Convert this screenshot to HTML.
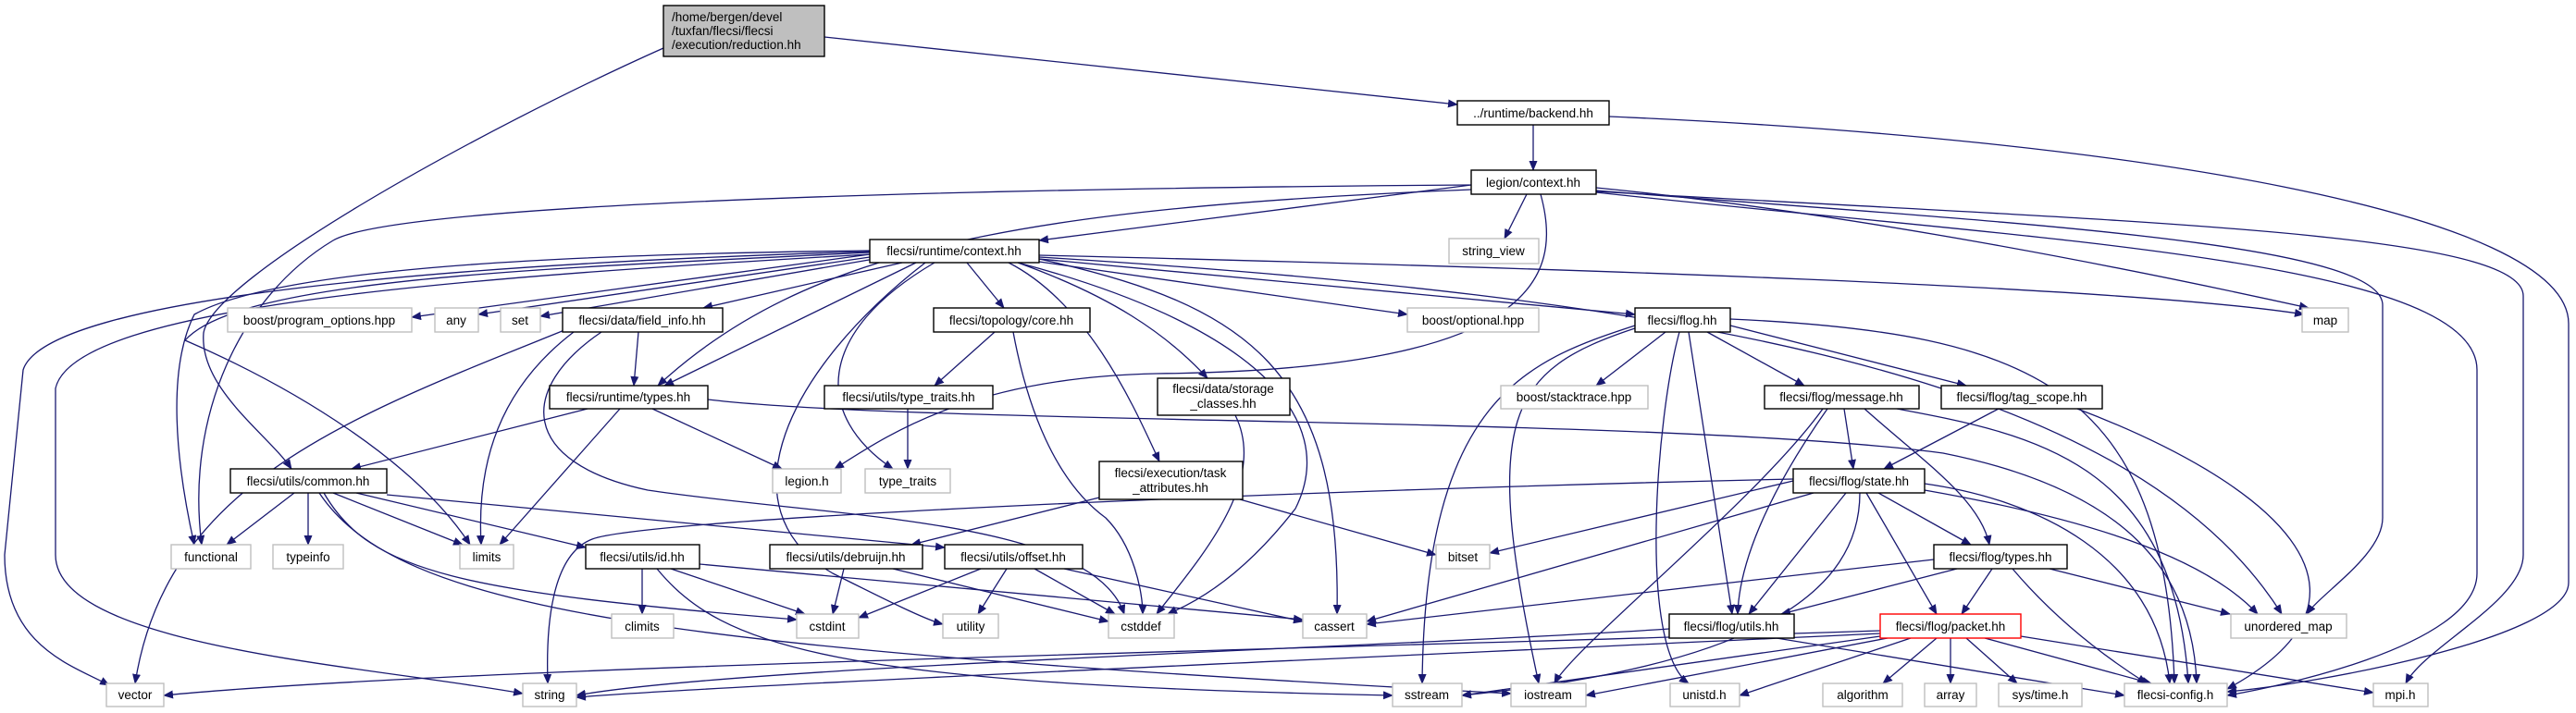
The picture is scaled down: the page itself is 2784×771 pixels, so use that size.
<!DOCTYPE html>
<html><head><meta charset="utf-8">
<style>
html,body{margin:0;padding:0;background:#fff;}
svg{display:block;}
text{font-family:"Liberation Sans",sans-serif;font-size:13.5px;fill:#000;}
.e{fill:none;stroke:#191970;stroke-width:1.3;marker-end:url(#a);}
.n{fill:#fff;stroke:#000;stroke-width:1.4;}
.l{fill:#fff;stroke:#bfbfbf;stroke-width:1.4;}
</style></head><body>
<svg width="2784" height="771" viewBox="0 0 2784 771" xmlns="http://www.w3.org/2000/svg">
<defs><marker id="a" markerUnits="userSpaceOnUse" markerWidth="11" markerHeight="9" refX="10" refY="4.5" orient="auto"><path d="M0,0 L11,4.5 L0,9 z" fill="#191970"/></marker></defs>
<g>
<path class="e" d="M891,40 L1575,113"/>
<path class="e" d="M717,52 C520,140 230,300 220,360 C215,420 290,470 315,507"/>
<path class="e" d="M1657,135 L1657,184"/>
<path class="e" d="M1739,126 C2300,150 2776,230 2776,350 L2776,630 C2776,690 2500,740 2407,748"/>
<path class="e" d="M1590,200 L1123,260"/>
<path class="e" d="M1650,210 L1626,258"/>
<path class="e" d="M1665,210 C1690,300 1660,400 1250,404 C1050,408 960,470 902,507"/>
<path class="e" d="M1590,205 C1100,225 870,270 711,417"/>
<path class="e" d="M1590,200 C900,205 420,225 360,260 C260,320 200,450 218,589"/>
<path class="e" d="M1725,203 C2000,230 2300,290 2495,333"/>
<path class="e" d="M1725,206 C2150,240 2575,260 2575,330 L2575,560 C2575,600 2510,640 2493,664"/>
<path class="e" d="M1725,208 C2200,260 2677,280 2677,400 L2677,620 C2677,700 2450,745 2407,752"/>
<path class="e" d="M1725,207 C2300,240 2727,250 2727,320 L2727,600 C2727,650 2620,700 2600,739"/>
<path class="e" d="M940,275 L445,343"/>
<path class="e" d="M940,278 L517,340"/>
<path class="e" d="M945,280 L584,342"/>
<path class="e" d="M975,284 L760,333"/>
<path class="e" d="M990,284 L718,417"/>
<path class="e" d="M1045,284 L1085,333"/>
<path class="e" d="M1100,284 C1200,320 1260,360 1305,409"/>
<path class="e" d="M1090,284 C1180,330 1230,450 1253,499"/>
<path class="e" d="M1123,283 L1521,340"/>
<path class="e" d="M1123,280 L1767,340"/>
<path class="e" d="M1123,276 C1700,290 2300,310 2490,340"/>
<path class="e" d="M1123,278 C1800,320 2300,400 2466,664"/>
<path class="e" d="M1123,280 C1350,330 1450,400 1445,664"/>
<path class="e" d="M1100,284 C1350,350 1450,450 1400,550 C1330,640 1270,660 1262,664"/>
<path class="e" d="M1000,284 C850,400 780,550 900,620 C960,650 1000,670 1019,675"/>
<path class="e" d="M1010,284 C880,360 880,450 965,507"/>
<path class="e" d="M940,275 C500,300 80,330 60,420 L60,600 C60,700 400,720 565,750"/>
<path class="e" d="M940,272 C500,285 50,320 25,400 L5,600 C5,700 80,720 118,741"/>
<path class="e" d="M940,273 C600,290 260,300 200,368 C320,420 450,500 508,589"/>
<path class="e" d="M940,271 C600,275 300,290 210,340 C180,400 190,500 210,589"/>
<path class="e" d="M690,359 L685,417"/>
<path class="e" d="M620,359 C540,420 515,500 520,589"/>
<path class="e" d="M615,355 C380,450 180,520 146,739"/>
<path class="e" d="M650,359 C560,420 560,500 700,530 C900,560 1180,560 1215,664"/>
<path class="e" d="M635,442 L380,507"/>
<path class="e" d="M670,442 L540,589"/>
<path class="e" d="M705,442 L845,507"/>
<path class="e" d="M765,432 C1000,460 1800,450 2100,490 C2300,530 2370,620 2374,739"/>
<path class="e" d="M981,442 L981,507"/>
<path class="e" d="M1075,359 L1010,417"/>
<path class="e" d="M1095,359 C1110,440 1140,520 1195,560 C1225,590 1235,640 1235,664"/>
<path class="e" d="M1335,449 C1370,520 1300,600 1250,664"/>
<path class="e" d="M1188,538 L985,589"/>
<path class="e" d="M1340,540 L1552,600"/>
<path class="e" d="M318,533 L245,589"/>
<path class="e" d="M333,533 L333,589"/>
<path class="e" d="M360,533 L500,589"/>
<path class="e" d="M385,533 L633,592"/>
<path class="e" d="M418,535 L1021,592"/>
<path class="e" d="M350,533 C400,620 500,640 861,670"/>
<path class="e" d="M345,533 C430,660 700,700 1633,750"/>
<path class="e" d="M694,615 L694,664"/>
<path class="e" d="M725,615 L870,664"/>
<path class="e" d="M756,610 L1408,670"/>
<path class="e" d="M710,615 C780,700 900,740 1505,752"/>
<path class="e" d="M912,615 L900,664"/>
<path class="e" d="M965,615 L1198,672"/>
<path class="e" d="M1088,615 L1057,664"/>
<path class="e" d="M1118,615 L1205,664"/>
<path class="e" d="M1150,615 L1408,672"/>
<path class="e" d="M1060,615 L928,668"/>
<path class="e" d="M1800,359 L1725,417"/>
<path class="e" d="M1845,359 L1950,417"/>
<path class="e" d="M1870,352 L2125,417"/>
<path class="e" d="M1767,352 C1650,390 1540,430 1537,739"/>
<path class="e" d="M1767,355 C1630,400 1600,450 1663,739"/>
<path class="e" d="M1815,359 C1790,450 1770,700 1825,739"/>
<path class="e" d="M1825,359 L1872,664"/>
<path class="e" d="M1870,345 C2200,360 2340,420 2350,739"/>
<path class="e" d="M1993,442 L2003,507"/>
<path class="e" d="M1975,442 C1920,520 1880,600 1878,664"/>
<path class="e" d="M2015,442 C2080,500 2140,540 2150,589"/>
<path class="e" d="M2050,442 C2200,470 2350,500 2365,739"/>
<path class="e" d="M1970,442 C1900,540 1700,700 1680,739"/>
<path class="e" d="M2160,442 L2036,507"/>
<path class="e" d="M2245,442 C2450,520 2600,640 2407,745"/>
<path class="e" d="M2030,533 L2130,589"/>
<path class="e" d="M1995,533 L1890,664"/>
<path class="e" d="M2017,533 L2093,664"/>
<path class="e" d="M2080,530 C2250,560 2380,600 2440,664"/>
<path class="e" d="M2080,523 C2200,540 2330,600 2345,739"/>
<path class="e" d="M1938,520 L1610,598"/>
<path class="e" d="M1960,533 L1477,672"/>
<path class="e" d="M1938,518 C1400,530 700,560 640,583 C595,600 590,680 592,739"/>
<path class="e" d="M2010,533 C2010,640 1900,720 1580,752"/>
<path class="e" d="M2153,615 L2120,664"/>
<path class="e" d="M2115,615 L1925,664"/>
<path class="e" d="M2090,605 L1477,675"/>
<path class="e" d="M2175,615 C2230,680 2290,720 2320,739"/>
<path class="e" d="M2215,615 L2410,664"/>
<path class="e" d="M1920,690 L2296,752"/>
<path class="e" d="M1804,680 C1500,700 800,720 623,752"/>
<path class="e" d="M2093,690 L2035,739"/>
<path class="e" d="M2108,690 L2108,739"/>
<path class="e" d="M2125,690 L2180,739"/>
<path class="e" d="M2145,690 L2325,739"/>
<path class="e" d="M2184,688 L2565,749"/>
<path class="e" d="M2065,690 L1880,752"/>
<path class="e" d="M2040,690 L1714,752"/>
<path class="e" d="M2032,688 L1580,752"/>
<path class="e" d="M2032,682 C1500,700 500,720 177,752"/>
<path class="e" d="M2032,685 C1500,710 800,740 623,754"/>
</g>
<g>
<rect x="717" y="6" width="174" height="55" fill="#bfbfbf" stroke="#000" stroke-width="1.4"/>
<text x="726" y="23">/home/bergen/devel</text><text x="726" y="38">/tuxfan/flecsi/flecsi</text><text x="726" y="53">/execution/reduction.hh</text>

<rect class="n" x="1575" y="109" width="164" height="26"/><text x="1657" y="127" text-anchor="middle">../runtime/backend.hh</text>
<rect class="n" x="1590" y="184" width="135" height="26"/><text x="1657" y="202" text-anchor="middle">legion/context.hh</text>
<rect class="l" x="1566" y="258" width="97" height="27"/><text x="1614" y="276" text-anchor="middle">string_view</text>
<rect class="n" x="940" y="259" width="183" height="25"/><text x="1031" y="276" text-anchor="middle">flecsi/runtime/context.hh</text>

<rect class="l" x="246" y="333" width="199" height="26"/><text x="345" y="351" text-anchor="middle">boost/program_options.hpp</text>
<rect class="l" x="470" y="333" width="47" height="26"/><text x="493" y="351" text-anchor="middle">any</text>
<rect class="l" x="541" y="333" width="43" height="26"/><text x="562" y="351" text-anchor="middle">set</text>
<rect class="n" x="608" y="333" width="173" height="26"/><text x="694" y="351" text-anchor="middle">flecsi/data/field_info.hh</text>
<rect class="n" x="1009" y="333" width="169" height="26"/><text x="1093" y="351" text-anchor="middle">flecsi/topology/core.hh</text>
<rect class="l" x="1521" y="333" width="142" height="26"/><text x="1592" y="351" text-anchor="middle">boost/optional.hpp</text>
<rect class="n" x="1767" y="333" width="103" height="26"/><text x="1818" y="351" text-anchor="middle">flecsi/flog.hh</text>
<rect class="l" x="2488" y="333" width="50" height="26"/><text x="2513" y="351" text-anchor="middle">map</text>

<rect class="n" x="594" y="417" width="171" height="25"/><text x="679" y="434" text-anchor="middle">flecsi/runtime/types.hh</text>
<rect class="n" x="891" y="417" width="182" height="25"/><text x="982" y="434" text-anchor="middle">flecsi/utils/type_traits.hh</text>
<rect class="n" x="1251" y="409" width="143" height="40"/><text x="1322" y="425" text-anchor="middle">flecsi/data/storage</text><text x="1322" y="441" text-anchor="middle">_classes.hh</text>
<rect class="l" x="1622" y="417" width="159" height="25"/><text x="1701" y="434" text-anchor="middle">boost/stacktrace.hpp</text>
<rect class="n" x="1907" y="417" width="167" height="25"/><text x="1990" y="434" text-anchor="middle">flecsi/flog/message.hh</text>
<rect class="n" x="2098" y="417" width="174" height="25"/><text x="2185" y="434" text-anchor="middle">flecsi/flog/tag_scope.hh</text>

<rect class="n" x="249" y="507" width="169" height="26"/><text x="333" y="525" text-anchor="middle">flecsi/utils/common.hh</text>
<rect class="l" x="835" y="507" width="74" height="26"/><text x="872" y="525" text-anchor="middle">legion.h</text>
<rect class="l" x="935" y="507" width="92" height="26"/><text x="981" y="525" text-anchor="middle">type_traits</text>
<rect class="n" x="1188" y="499" width="155" height="41"/><text x="1265" y="516" text-anchor="middle">flecsi/execution/task</text><text x="1265" y="532" text-anchor="middle">_attributes.hh</text>
<rect class="n" x="1938" y="507" width="142" height="26"/><text x="2009" y="525" text-anchor="middle">flecsi/flog/state.hh</text>

<rect class="l" x="185" y="589" width="86" height="26"/><text x="228" y="607" text-anchor="middle">functional</text>
<rect class="l" x="295" y="589" width="76" height="26"/><text x="333" y="607" text-anchor="middle">typeinfo</text>
<rect class="l" x="497" y="589" width="58" height="26"/><text x="526" y="607" text-anchor="middle">limits</text>
<rect class="n" x="633" y="589" width="123" height="26"/><text x="694" y="607" text-anchor="middle">flecsi/utils/id.hh</text>
<rect class="n" x="832" y="589" width="165" height="26"/><text x="914" y="607" text-anchor="middle">flecsi/utils/debruijn.hh</text>
<rect class="n" x="1021" y="589" width="149" height="26"/><text x="1095" y="607" text-anchor="middle">flecsi/utils/offset.hh</text>
<rect class="l" x="1552" y="589" width="58" height="26"/><text x="1581" y="607" text-anchor="middle">bitset</text>
<rect class="n" x="2090" y="589" width="144" height="26"/><text x="2162" y="607" text-anchor="middle">flecsi/flog/types.hh</text>

<rect class="l" x="661" y="664" width="67" height="26"/><text x="694" y="682" text-anchor="middle">climits</text>
<rect class="l" x="861" y="664" width="67" height="26"/><text x="894" y="682" text-anchor="middle">cstdint</text>
<rect class="l" x="1019" y="664" width="60" height="26"/><text x="1049" y="682" text-anchor="middle">utility</text>
<rect class="l" x="1198" y="664" width="71" height="26"/><text x="1233" y="682" text-anchor="middle">cstddef</text>
<rect class="l" x="1408" y="664" width="69" height="26"/><text x="1442" y="682" text-anchor="middle">cassert</text>
<rect class="n" x="1804" y="664" width="135" height="26"/><text x="1871" y="682" text-anchor="middle">flecsi/flog/utils.hh</text>
<rect x="2032" y="664" width="152" height="26" fill="#fff" stroke="#ff0000" stroke-width="1.4"/><text x="2108" y="682" text-anchor="middle">flecsi/flog/packet.hh</text>
<rect class="l" x="2411" y="664" width="125" height="26"/><text x="2473" y="682" text-anchor="middle">unordered_map</text>

<rect class="l" x="115" y="739" width="62" height="25"/><text x="146" y="756" text-anchor="middle">vector</text>
<rect class="l" x="565" y="739" width="58" height="25"/><text x="594" y="756" text-anchor="middle">string</text>
<rect class="l" x="1505" y="739" width="75" height="25"/><text x="1542" y="756" text-anchor="middle">sstream</text>
<rect class="l" x="1633" y="739" width="81" height="25"/><text x="1673" y="756" text-anchor="middle">iostream</text>
<rect class="l" x="1805" y="739" width="75" height="25"/><text x="1842" y="756" text-anchor="middle">unistd.h</text>
<rect class="l" x="1970" y="739" width="86" height="25"/><text x="2013" y="756" text-anchor="middle">algorithm</text>
<rect class="l" x="2080" y="739" width="56" height="25"/><text x="2108" y="756" text-anchor="middle">array</text>
<rect class="l" x="2160" y="739" width="90" height="25"/><text x="2205" y="756" text-anchor="middle">sys/time.h</text>
<rect class="l" x="2296" y="739" width="111" height="25"/><text x="2351" y="756" text-anchor="middle">flecsi-config.h</text>
<rect class="l" x="2565" y="739" width="59" height="25"/><text x="2594" y="756" text-anchor="middle">mpi.h</text>
</g>
</svg>
</body></html>
